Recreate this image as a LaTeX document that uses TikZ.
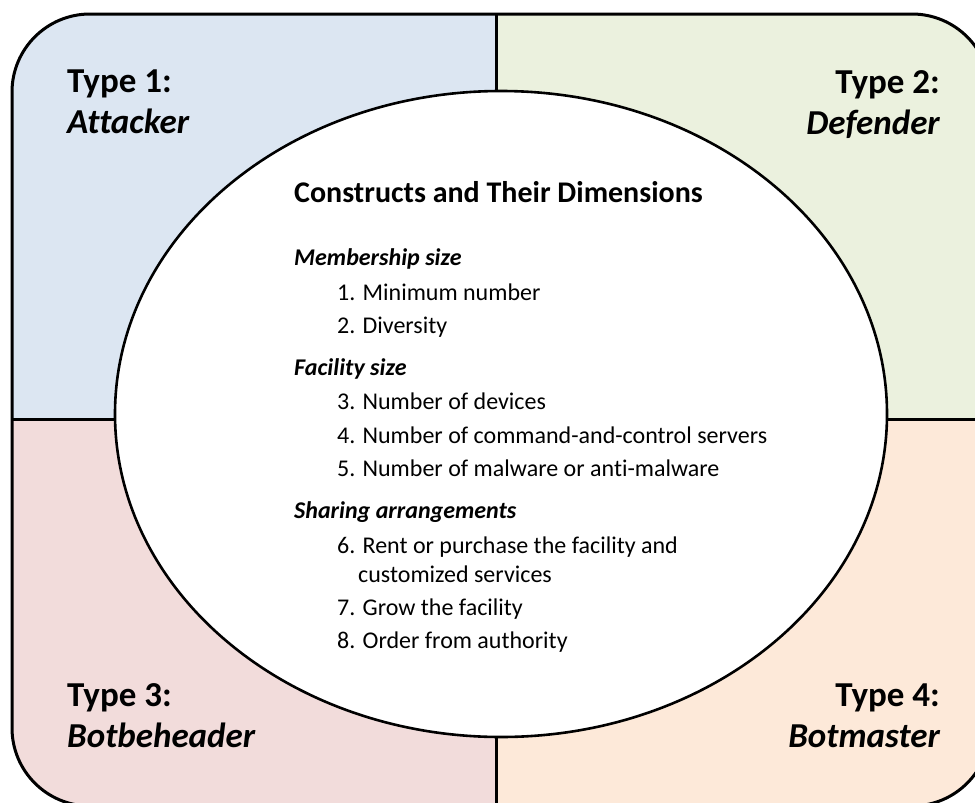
\documentclass[tikz,border=0pt]{standalone}
\usepackage{fontspec}
\setmainfont{Carlito}[Ligatures=NoCommon]
\usetikzlibrary{shapes.geometric}

\definecolor{qblue}{HTML}{DCE6F2}
\definecolor{qgreen}{HTML}{EBF1DE}
\definecolor{qpink}{HTML}{F2DCDB}
\definecolor{qpeach}{HTML}{FDE9D9}

\tikzset{
  frame/.style={line width=3pt, draw=black},
  divider/.style={line width=3pt, draw=black},
  core/.style={ellipse, draw=black, line width=2.6pt, fill=white, inner sep=0pt,
               minimum width=772pt, minimum height=646pt},
  typelabel/.style={inner sep=0pt, align=left, font=\fontsize{35}{41}\selectfont\bfseries},
  typelabelR/.style={typelabel, align=right},
  corehead/.style={inner sep=0pt, anchor=base west, font=\fontsize{30}{34}\selectfont\bfseries},
  dimhead/.style={inner sep=0pt, anchor=base west, font=\fontsize{24}{29}\selectfont\bfseries\itshape},
  dimitem/.style={inner sep=0pt, anchor=base west, font=\fontsize{24}{29}\selectfont, align=left},
}

\begin{document}
\begin{tikzpicture}[x=1pt, y=-1pt]
\useasboundingbox (0,0) rectangle (975,803);

% four coloured quadrants inside the rounded frame
\begin{scope}
  \clip (0,0) rectangle (975,803);
  \begin{scope}
    \clip[rounded corners=78pt] (12,14) rectangle (990,806);
    \fill[qblue]  (0,0)     rectangle (496,419);
    \fill[qgreen] (496,0)   rectangle (1000,419);
    \fill[qpink]  (0,419)   rectangle (496,810);
    \fill[qpeach] (496,419) rectangle (1000,810);
  \end{scope}
  \coordinate (vtop) at (496,14);
  \coordinate (vbot) at (496,806);
  \coordinate (hleft) at (12,419);
  \coordinate (hright) at (990,419);
  \draw[divider] (vtop) -- (vbot);
  \draw[divider] (hleft) -- (hright);
  \draw[frame, rounded corners=78pt] (12,14) rectangle (990,806);
\end{scope}

% central ellipse with the constructs
\node[core] (core) at (501,414) {};

\node[corehead] (title) at (294,202) {Constructs and Their Dimensions};

\node[dimhead] (memb) at (294,265) {Membership size};
\node[dimitem] (d1) at (337,300) {1. Minimum number};
\node[dimitem] (d2) at (337,333) {2. Diversity};

\node[dimhead] (fac) at (294,375) {Facility size};
\node[dimitem] (d3) at (337,409) {3. Number of devices};
\node[dimitem] (d4) at (337,443) {4. Number of command-and-control servers};
\node[dimitem] (d5) at (337,476) {5. Number of malware or anti-malware};

\node[dimhead] (share) at (294,518) {Sharing arrangements};
% the base anchor of a two-line node sits on its last line
\node[dimitem] (d6) at (337,582) {6. Rent or purchase the facility and\\\hspace*{21pt}customized services};
\node[dimitem] (d7) at (337,615) {7. Grow the facility};
\node[dimitem] (d8) at (337,648) {8. Order from authority};

% the four types in the corners
\node[typelabel, anchor=base west] (t1) at (67,133) {Type 1:\\\itshape Attacker};
\node[typelabelR, anchor=base east] (t2) at (940,134) {Type 2:\\\itshape Defender};
\node[typelabel, anchor=base west] (t3) at (67,747) {Type 3:\\\itshape Botbeheader};
\node[typelabelR, anchor=base east] (t4) at (940,747) {Type 4:\\\itshape Botmaster};
\end{tikzpicture}
\end{document}
